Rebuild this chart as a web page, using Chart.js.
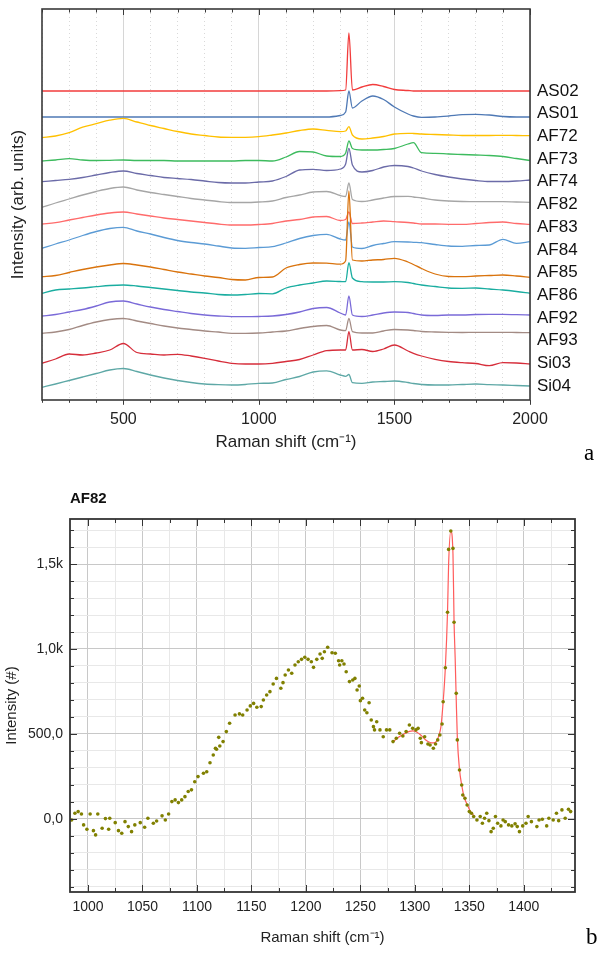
<!DOCTYPE html>
<html>
<head>
<meta charset="utf-8">
<script src="https://cdn.jsdelivr.net/npm/chart.js@4.4.1/dist/chart.umd.min.js"></script>
<style>
  html, body { margin: 0; padding: 0; background: #fff; }
  body { width: 601px; height: 957px; position: relative; overflow: hidden; font-family: "Liberation Sans", Arial, sans-serif; }
  .box { position: absolute; left: 0; width: 601px; }
  #topBox { top: 0; height: 460px; }
  #botBox { top: 460px; height: 497px; }
  .tag { position: absolute; font-family: "Liberation Serif", "Times New Roman", serif; font-size: 23px; color: #000; line-height: 1; }
  #title82 { position: absolute; left: 70px; top: 489px; font-weight: bold; font-size: 15px; color: #111; }
</style>
</head>
<body>
<div id="topBox" class="box"><canvas id="stackChart"></canvas></div>
<div id="botBox" class="box"><canvas id="fitChart"></canvas></div>
<div class="tag" style="left:584px; top:441px;">a</div>
<div class="tag" style="left:586px; top:925px;">b</div>
<div id="title82">AF82</div>
<script>
// ---- top panel: stacked Raman spectra ----
let ramanX = [200, 250, 300, 350, 400, 450, 500, 550, 600, 650, 700, 750, 800, 850, 900, 950, 1000,
  1050, 1100, 1150, 1200, 1250, 1300, 1320, 1332, 1345, 1380, 1420, 1460, 1500, 1550, 1570, 1600,
  1650, 1700, 1750, 1800, 1850, 1900, 1950, 2000];

let sampleNames = ['AS02', 'AS01', 'AF72', 'AF73', 'AF74', 'AF82', 'AF83', 'AF84', 'AF85', 'AF86', 'AF92', 'AF93', 'Si03', 'Si04'];
let sampleOffsets = [309, 283, 262.3, 239, 218.3, 192.7, 176, 151.7, 123.3, 106.7, 84, 66.7, 36.7, 12.7];
let sampleColors = ['#f23c3c', '#4f79b5', '#ffc000', '#3dbb5e', '#6b6ba8', '#a6a6a6', '#ff6b6b',
  '#5b9bd5', '#d9730d', '#1aada0', '#7a6ad8', '#a38b84', '#d62d3a', '#5ea8a6'];

let AS02 = [0,0,0,0,0,0,0,0,0,0,0,0,0,0,0,0,0,0,0,0,0,0,0.3, 1,58,1,4,6.5,4.5,1.5,0.5,0,0,0,0,0,0,0,0,0,0];
let AS01 = [0,0,0,0,0,0,0,0,0,0,0,0,0,0,0,0,0,0,0,0,0,0,1.5, 5,26,9,16,21,17.5,10,3,1,-0.3,0,1,2.3,2.7,2,0.5,0,0];
let AF72 = [0,1.7,5,10.5,14,17.5,19.3,15.7,12.2,9.2,6.2,3.7,2.2,0.7,0.4,0.4,1,2.7,4.7,7.2,8.7,7.4,6, 6.7,11,2.7,-1.3,-0.3,1.2,3.7,4.4,4.2,3.7,3.2,2.7,2.2,2.2,2.2,2.4,2.2,2];
let AF73 = [0,1,2.3,1,0.5,0.7,1,0.5,0.5,0.5,0,0,0,0,0,0.5,0.5,0,4,9.5,9,5,4.5, 8,20,12.5,11,11,11.5,12.5,17,18.3,8.3,7.7,7,6.5,6,5.5,4.5,2.5,0.5];
let AF74 = [0,1.2,2.4,4.2,6.7,9.2,10.7,8.2,6.2,4.2,3.2,2.2,0.7,-0.8,-1.3,-1.3,-0.3,0.7,5.2,11.7,12.4,11.2,12.7, 17.7,33.4,16.7,9.7,11.2,14.7,16.2,15.2,13.7,10.7,7.2,4.7,2.7,1.2,0.2,0.2,0.7,1.7];
let AF82 = [0,4.3,8.3,12.3,15.8,18.8,20.3,17.3,14.8,12.8,10.8,8.8,7.3,5.8,4.8,4.8,5.3,6.3,9.8,12.3,15.3,15.8,11.8, 10.8,24.3,7.8,5.8,7.3,9.3,10.8,11,10.3,9.3,7.3,6.3,5.8,5.6,5.6,5.6,5.3,5];
let AF83 = [0,1.3,4,6.5,9,11,12,10,8,6,4.5,3,1.5,0,-1,-1,-0.5,0.5,3,4.5,7,7.5,3.5, 4.5,12,0.5,1,2,3,2.3,1.5,1,0,0,-0.3,-0.3,0.5,1.5,2,0.5,-0.3];
let AF84 = [0,4.3,8.3,12.8,16.8,19.8,21,17.3,14.3,10.8,7.8,5.8,4.3,2.3,0.3,0,0.8,1.6,5.3,9.8,12.8,14,9.3, 8.3,26.3,1.3,-0.2,2.8,4.8,6.6,6.3,6,5.6,3.8,2.3,2,2.8,3.3,9,5,6.6];
let AF85 = [0,1.2,4.2,7.2,9.7,11.7,13.2,11.7,9.7,7.2,4.7,2.7,0.7,-0.8,-2.8,-3.3,-0.8,-0.3,8.7,12.2,13.7,13.5,12.5, 16,85.7,16.7,15.7,16.7,17.2,18.4,14.7,12.2,8.2,2.7,0.2,0,0.7,1.2,1.7,0.7,-0.6];
let AF86 = [0,3.3,4.3,5.3,6.6,7.8,8.3,7.3,5.8,4.3,2.8,1.3,0.3,-1.2,-1.7,-1.2,-0.2,-0.5,5.3,8.3,10.3,12.3,11.8, 11.6,30.6,15.3,11.6,11.3,11.3,11.6,10.8,9.8,8.3,6.8,5.3,5,5.3,4.3,3.3,1.8,0];
let AF92 = [0,1.5,4,6.5,10,14,15,12,9,6.5,4.5,2.5,1,0,-0.7,-0.7,-0.5,0,1.5,4,7.5,8.5,3, 1,20,1,-0.5,1,3,4,3.5,2.5,1,0.5,1,1,1.5,1.7,1.7,1.3,1];
let AF93 = [0,1.3,3.8,7.8,11.3,13.8,14.8,12.3,9.8,7.3,5.3,3.8,2.3,1.3,0,0,0.3,1.3,2.3,4.8,6.8,7.8,3.3, 2.6,15,1.6,0.3,0.3,2.3,3.8,3.3,2.8,1.8,1.3,1,0.8,1,1,1,0.8,0.6];
let Si03 = [0,4.3,9.3,8.3,10.3,13.3,19.8,10.8,9.3,8.3,9,7.3,5,2.3,0,-0.7,-0.7,0,1.8,3.8,8.3,12.6,13.3, 13.3,31.6,13.3,13.8,11.8,14.3,18.3,12.3,10,7.3,4,1.8,0.6,-0.2,-2.4,0.6,0.3,-0.7];
let Si04 = [0,3.3,6.8,10.3,13.8,17.3,18.8,15.8,12.3,9.3,6.8,4.8,3.3,2.6,2.3,2.8,4,4.3,7.8,10.8,15.3,16.5,12.3, 11,12.8,4.6,4,5.3,5.8,6.3,4.8,3.8,2.8,2.3,2.3,2.8,3.3,2.6,2.3,1.8,1.3];
let spectra = [AS02, AS01, AF72, AF73, AF74, AF82, AF83, AF84, AF85, AF86, AF92, AF93, Si03, Si04];

let topTicks = [500, 1000, 1500, 2000];

// ---- bottom panel: AF82 detail with fit ----
let shiftAF82 = [985,988,991,994,996,999,1002,1005,1007,1009,1013,1016,1019,1020,1025,1028,1031,1034,1037,1040,
  1043,1048,1052,1055,1060,1063,1068,1071,1074,1077,1080,1083,1086,1089,1092,1095,1098,1101,1106,1109,
  1112,1115,1117,1118,1120,1121,1124,1127,1130,1135,1139,1142,1146,1149,1152,1155,1159,1161,1164,1167,
  1170,1173,1177,1179,1181,1184,1187,1190,1193,1196,1199,1202,1205,1207,1210,1213,1215,1217,1220,1224,
  1227,1230,1231,1233,1235,1237,1240,1243,1245,1247,1249,1250,1252,1254,1256,1258,1260,1262,1263,1265,
  1268,1271,1274,1277,1280,1283,1286,1289,1292,1295,1298,1301,1303,1305,1306,1309,1312,1314,1317,1319,
  1321,1323,1325,1326,1328,1330,1331,1333,1335,1336,1338,1339,1341,1343,1344,1346,1348,1350,1352,1354,
  1357,1360,1362,1364,1366,1368,1370,1372,1374,1376,1379,1381,1383,1386,1389,1392,1394,1396,1399,1402,
  1404,1407,1412,1414,1417,1421,1423,1427,1430,1432,1435,1438,1441,1443];
let countsAF82 = [-6,33,43,29,-35,-61,29,-69,-94,29,-55,2,-61,4,-22,-69,-84,-16,-45,-75,
  -35,-22,-49,4,-25,-12,18,-6,29,102,112,96,112,131,161,171,219,249,269,278,
  331,376,416,410,480,429,455,514,563,612,618,612,641,665,680,657,661,700,729,749,
  794,827,769,802,847,876,857,906,925,939,951,939,925,892,939,971,945,984,1010,978,
  975,931,906,931,912,866,808,818,827,759,782,696,710,641,625,684,582,543,524,572,
  524,484,524,524,455,475,504,488,514,553,533,524,533,475,449,484,441,435,416,441,
  465,494,559,690,890,1216,1586,1694,1592,1157,739,465,288,200,141,122,82,43,33,14,
  -6,14,-25,4,33,-10,-75,-55,14,-25,-41,-6,-16,-35,-41,-29,-45,-75,-41,-25,
  14,-16,-45,-6,-2,-41,4,-6,33,-10,53,4,57,43];

let fitShift = [1280,1285,1290,1295,1298,1302,1306,1310,1314,1317,1320,1322,1324,1326,1328,1330,1331,1333,
  1335,1336,1337,1338,1339,1341,1343,1345,1348,1351,1354];
let fitCounts = [455,480,500,515,518,510,490,465,450,447,458,490,545,690,890,1216,1500,1694,
  1560,1160,950,700,480,290,200,135,85,45,20];

// intensity axis: gridlines every 100, labels every 500
function stepValues(from, to, step) {
  let out = [];
  for (let v = from; v <= to; v += step) out.push(v);
  return out;
}
function countLabel(v) {
  let r = Math.round(v);
  if (r % 500 !== 0) return '';
  if (Math.abs(r) < 1000) return r + ',0';
  return (r / 1000).toFixed(1).replace('.', ',') + 'k';
}

// frame + inward tick marks, drawn from the scale ticks
let framePlugin = {
  id: 'frame',
  afterDraw(chart, args, o) {
    let ctx = chart.ctx, a = chart.chartArea;
    ctx.save();
    ctx.strokeStyle = o.color;
    ctx.lineWidth = 1;
    let xs = chart.scales.x;
    xs.ticks.forEach(t => {
      let p = Math.round(xs.getPixelForValue(t.value)) + 0.5;
      let len = Math.round(t.value) % o.xMajor === 0 ? o.major : o.minor;
      let blen = o.bottomOut ? len * 0.8 : -len;
      ctx.beginPath();
      ctx.moveTo(p, a.top); ctx.lineTo(p, a.top + len);
      ctx.moveTo(p, a.bottom); ctx.lineTo(p, a.bottom + blen);
      ctx.stroke();
    });
    if (o.yMajor) {
      let ys = chart.scales.y;
      ys.ticks.forEach(t => {
        let p = Math.round(ys.getPixelForValue(t.value)) + 0.5;
        let len = Math.round(t.value) % o.yMajor === 0 ? o.major : o.minor;
        ctx.beginPath();
        ctx.moveTo(a.left, p); ctx.lineTo(a.left + len, p);
        ctx.moveTo(a.right, p); ctx.lineTo(a.right - len, p);
        ctx.stroke();
      });
    }
    ctx.lineWidth = o.width;
    ctx.strokeRect(a.left, a.top, a.right - a.left, a.bottom - a.top);
    ctx.restore();
  }
};

let fontName = '"Liberation Sans", Arial, sans-serif';

let stackSets = sampleNames.map((name, i) => ({
  label: name,
  data: ramanX.map((x, k) => ({x: x, y: sampleOffsets[i] + spectra[i][k]})),
  borderColor: sampleColors[i],
  borderWidth: 1.3,
  pointRadius: 0,
  fill: false,
  cubicInterpolationMode: 'monotone',
  order: -i
}));

let labelTop = 309, labelStep = 22.7;

let stackChart = new Chart(document.getElementById('stackChart').getContext('2d'), {
  type: 'line',
  data: {datasets: stackSets},
  options: {
    responsive: true,
    maintainAspectRatio: false,
    animation: false,
    layout: {padding: {top: 9, left: 0, right: 0, bottom: 0}},
    plugins: {
      legend: {display: false},
      tooltip: {enabled: false},
      frame: {color: '#3a3a3a', width: 1.6, major: 6, minor: 3.5, xMajor: 500, bottomOut: true}
    },
    scales: {
      x: {
        type: 'linear', min: 200, max: 2000,
        ticks: {
          stepSize: 100, autoSkip: false, maxRotation: 0, padding: 10,
          color: '#222', font: {family: fontName, size: 16},
          callback: v => topTicks.includes(v) ? String(v) : ''
        },
        grid: {
          drawTicks: false,
          color: c => (c.tick && c.tick.value % 500 === 0) ? '#d6d6d6' : '#d9d9d9',
          lineWidth: 1
        },
        border: {display: false, dash: c => (c.tick && c.tick.value % 500 === 0) ? [] : [1, 3]},
        title: {display: true, text: 'Raman shift (cm\u207B\u00B9)', color: '#222',
          font: {family: fontName, size: 17}, padding: {top: 0, bottom: 7}},
        afterFit: s => { s.height = 60; }
      },
      y: {
        min: 0, max: 391,
        ticks: {display: false},
        grid: {display: false, drawTicks: false},
        border: {display: false},
        title: {display: true, text: 'Intensity (arb. units)', color: '#222',
          font: {family: fontName, size: 17}, padding: {top: 8, bottom: 0}},
        afterFit: s => { s.width = 42; s.paddingTop = 0; s.paddingBottom = 0; }
      },
      names: {
        position: 'right', min: 0, max: 391,
        afterBuildTicks: s => { s.ticks = sampleNames.map((n, i) => ({value: labelTop - i * labelStep})); },
        ticks: {
          autoSkip: false, padding: 7, color: '#111', font: {family: fontName, size: 17},
          callback: (v, i) => sampleNames[i]
        },
        grid: {display: false, drawTicks: false},
        border: {display: false},
        afterFit: s => { s.width = 71; s.paddingTop = 0; s.paddingBottom = 0; }
      }
    }
  },
  plugins: [framePlugin]
});

let fitChart = new Chart(document.getElementById('fitChart').getContext('2d'), {
  type: 'line',
  data: {
    datasets: [
      {
        label: 'fit',
        data: fitShift.map((x, k) => ({x: x, y: fitCounts[k]})),
        borderColor: '#ff5c5c',
        borderWidth: 1.2,
        pointRadius: 0,
        fill: false,
        cubicInterpolationMode: 'monotone',
        order: 1
      },
      {
        label: 'AF82',
        type: 'scatter',
        data: shiftAF82.map((x, k) => ({x: x, y: countsAF82[k]})),
        backgroundColor: '#808000',
        borderColor: '#6f6f00',
        borderWidth: 0,
        pointRadius: 1.8,
        showLine: false,
        order: 0
      }
    ]
  },
  options: {
    responsive: true,
    maintainAspectRatio: false,
    animation: false,
    layout: {padding: {top: 59, left: 0, right: 26, bottom: 0}},
    plugins: {
      legend: {display: false},
      tooltip: {enabled: false},
      frame: {color: '#333', width: 1.8, major: 7, minor: 4, xMajor: 50, yMajor: 500, bottomOut: false}
    },
    scales: {
      x: {
        type: 'linear', min: 983.5, max: 1447,
        afterBuildTicks: s => { s.ticks = stepValues(1000, 1425, 25).map(v => ({value: v})); },
        ticks: {
          autoSkip: false, maxRotation: 0, padding: 7,
          color: '#222', font: {family: fontName, size: 14},
          callback: v => Math.round(v) % 50 === 0 ? String(Math.round(v)) : ''
        },
        grid: {
          drawTicks: false,
          color: c => (c.tick && Math.round(c.tick.value) % 50 === 0) ? '#c8c8c8' : '#e8e8e8'
        },
        border: {display: false},
        title: {display: true, text: 'Raman shift (cm\u207B\u00B9)', color: '#222',
          font: {family: fontName, size: 15}, padding: {top: 0, bottom: 10}},
        afterFit: s => { s.height = 65; s.paddingLeft = 0; s.paddingRight = 0; }
      },
      y: {
        min: -430, max: 1765,
        afterBuildTicks: s => { s.ticks = stepValues(-400, 1700, 100).map(v => ({value: v})); },
        ticks: {
          autoSkip: false, padding: 7,
          color: '#222', font: {family: fontName, size: 14},
          callback: v => countLabel(v)
        },
        grid: {
          drawTicks: false,
          color: c => (c.tick && Math.round(c.tick.value) % 500 === 0) ? '#c8c8c8' : '#e8e8e8'
        },
        border: {display: false},
        title: {display: true, text: 'Intensity (#)', color: '#222',
          font: {family: fontName, size: 15}, padding: {top: 3, bottom: 0}},
        afterFit: s => { s.width = 70; s.paddingTop = 0; s.paddingBottom = 0; }
      }
    }
  },
  plugins: [framePlugin]
});
</script>
</body>
</html>
